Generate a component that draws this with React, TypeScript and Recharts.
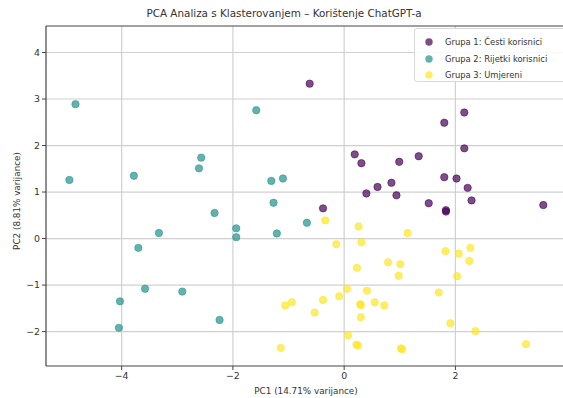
import React from 'react';
import { ScatterChart, Scatter, XAxis, YAxis, CartesianGrid, ReferenceLine } from 'recharts';

const title = 'PCA Analiza s Klasterovanjem – Korištenje ChatGPT-a';
const xLabel = 'PC1 (14.71% varijance)';
const yLabel = 'PC2 (8.81% varijance)';
const groupNames = ['Grupa 1: Česti korisnici', 'Grupa 2: Rijetki korisnici', 'Grupa 3: Umjereni'];
const groupColors = ['#440154', '#21918c', '#fde725'];
const xTicks = [-4, -2, 0, 2];
const yTicks = [-2, -1, 0, 1, 2, 3, 4];
const xDomain = [-5.36, 4.06];
const yDomain = [-2.74, 4.57];

const group1: [number, number][] = [
  [-0.62, 3.33], [0.19, 1.81], [0.31, 1.62], [0.40, 0.97], [-0.38, 0.65],
  [2.16, 2.71], [1.80, 2.49], [2.16, 1.94], [1.34, 1.77], [0.99, 1.65],
  [1.80, 1.32], [2.02, 1.29], [0.85, 1.20], [0.60, 1.11], [0.94, 0.93],
  [2.22, 1.09], [2.29, 0.82], [1.52, 0.76], [1.83, 0.61], [1.83, 0.58],
  [3.58, 0.72],
];

const group2: [number, number][] = [
  [-4.83, 2.89], [-4.94, 1.26], [-3.78, 1.35], [-3.33, 0.12], [-3.70, -0.20],
  [-3.58, -1.08], [-4.03, -1.35], [-4.05, -1.92], [-2.91, -1.14], [-1.58, 2.76],
  [-2.57, 1.74], [-2.61, 1.51], [-1.31, 1.24], [-1.10, 1.29], [-1.27, 0.77],
  [-2.33, 0.55], [-1.94, 0.22], [-1.94, 0.03], [-1.21, 0.11], [-0.67, 0.34],
  [-2.24, -1.75],
];

const group3: [number, number][] = [
  [-0.34, 0.39], [0.26, 0.26], [0.31, -0.08], [-0.14, -0.12], [0.23, -0.63],
  [0.05, -1.08], [0.41, -1.12], [-0.09, -1.24], [-0.38, -1.32], [0.29, -1.41],
  [0.30, -1.43], [-0.94, -1.37], [-1.06, -1.44], [-0.53, -1.59], [0.30, -1.69],
  [0.07, -2.08], [0.22, -2.28], [0.25, -2.30], [-1.14, -2.35], [1.14, 0.12],
  [1.82, -0.27], [2.06, -0.32], [2.27, -0.20], [2.25, -0.48], [0.79, -0.51],
  [1.01, -0.55], [0.98, -0.80], [2.03, -0.81], [1.70, -1.16], [0.55, -1.37],
  [0.72, -1.44], [1.91, -1.82], [2.36, -1.99], [3.27, -2.27], [1.04, -2.38],
  [1.02, -2.36],
];

const groups = [group1, group2, group3];

const fmt = (v: number) => String(v).replace('-', '\u2212');

const font = 'DejaVu Sans, sans-serif';

const makeShape = (color: string) => (p: any) => (
  <circle cx={p.cx} cy={p.cy} r={3.7} fill={color} fillOpacity={0.7} stroke={color} strokeOpacity={0.75} strokeWidth={0.7} />
);

const YLabelContent = (props: any) => {
  const vb = props.viewBox || { y: 26, height: 340 };
  const cy = vb.y + vb.height / 2 + 5;
  return (
    <text x={17} y={cy} transform={`rotate(-90 17 ${cy})`} textAnchor="middle" dominantBaseline="middle"
      fontFamily={font} fontSize={8.8} fill="#333">{yLabel}</text>
  );
};

const XLabelContent = () => (
  <text x={306} y={391} textAnchor="middle" dominantBaseline="middle"
    fontFamily={font} fontSize={8.8} fill="#333">{xLabel}</text>
);

export default function App() {
  return (
    <div style={{ position: 'absolute', left: 0, top: 0, width: 563, height: 398, overflow: 'hidden', background: '#fff' }}>
      <div style={{ position: 'absolute', left: 284, top: 7, transform: 'translateX(-50%)', whiteSpace: 'nowrap', fontFamily: font, fontSize: 10.4, color: '#333' }}>
        {title}
      </div>
      <ScatterChart width={570} height={398} margin={{ top: 26, right: 0, bottom: 0, left: 0 }}>
        <CartesianGrid stroke="#d0d0d0" strokeWidth={1.2} horizontalValues={yTicks} verticalValues={xTicks} />
        <XAxis type="number" dataKey="x" domain={xDomain} ticks={xTicks} tickFormatter={fmt}
          allowDataOverflow height={32} axisLine={{ stroke: '#444', strokeWidth: 1.2 }}
          tickLine={{ stroke: '#444' }} tickSize={4}
          tick={{ fontFamily: font, fontSize: 9.4, fill: '#333' }}
          label={{ content: XLabelContent }} />
        <YAxis type="number" dataKey="y" domain={yDomain} ticks={yTicks} tickFormatter={fmt}
          allowDataOverflow width={46} axisLine={{ stroke: '#444', strokeWidth: 1.2 }}
          tickLine={{ stroke: '#444' }} tickSize={4}
          tick={{ fontFamily: font, fontSize: 9.4, fill: '#333' }}
          label={{ content: YLabelContent }} />
        <ReferenceLine y={yDomain[1]} stroke="#444" strokeWidth={1.2} ifOverflow="extendDomain" />
        {groups.map((g, i) => (
          <Scatter key={i} name={groupNames[i]} data={g.map(([x, y]) => ({ x, y }))}
            shape={makeShape(groupColors[i])} isAnimationActive={false} />
        ))}
      </ScatterChart>
      <div style={{ position: 'absolute', left: 414, top: 28, width: 160, height: 54, border: '1px solid #d8d8d8', borderRadius: 3, background: 'rgba(255,255,255,0.85)', boxSizing: 'border-box' }}>
        {groupNames.map((n, i) => (
          <div key={i} style={{ position: 'absolute', left: 0, top: 6 + i * 16.5, height: 14, display: 'flex', alignItems: 'center', whiteSpace: 'nowrap' }}>
            <svg width={30} height={14} style={{ flex: 'none' }}>
              <circle cx={14} cy={7} r={3.7} fill={groupColors[i]} fillOpacity={0.7} />
            </svg>
            <span style={{ fontFamily: font, fontSize: 8.4, color: '#333' }}>{n}</span>
          </div>
        ))}
      </div>
    </div>
  );
}
